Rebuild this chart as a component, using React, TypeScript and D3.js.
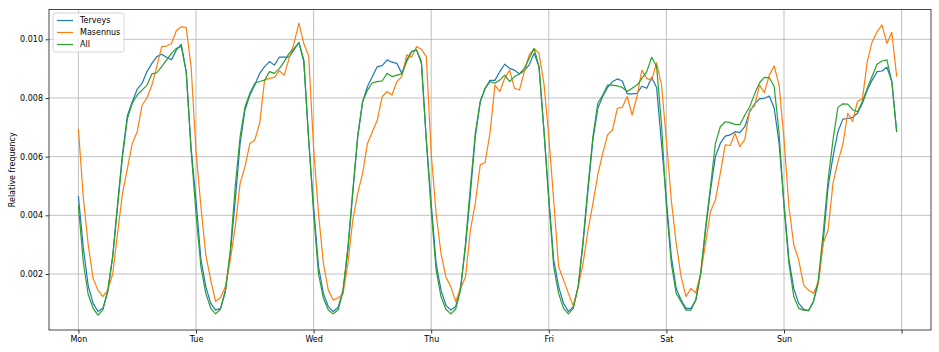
import React, { useEffect, useRef } from 'react';
import * as d3 from 'd3';

// hour of week 0..167, Monday 00:00 first
const days = ['Mon', 'Tue', 'Wed', 'Thu', 'Fri', 'Sat', 'Sun', ''];
const yTicks = [0.002, 0.004, 0.006, 0.008, 0.010];

const terveys = [
  // Mon
  0.00466, 0.0029, 0.0016, 0.001, 0.00072, 0.00083, 0.0014, 0.0026, 0.0044, 0.0061, 0.0074, 0.00787,
  0.0083, 0.0085, 0.0089, 0.00918, 0.00941, 0.00949, 0.00939, 0.0093, 0.00964, 0.00983, 0.0089, 0.0063,
  // Tue
  0.0045, 0.0025, 0.00157, 0.001, 0.00077, 0.00083, 0.00145, 0.0027, 0.0045, 0.00645, 0.0076, 0.0081,
  0.00844, 0.00884, 0.00907, 0.00924, 0.00912, 0.00939, 0.00939, 0.00939, 0.00964, 0.00989, 0.00924, 0.00657,
  // Wed
  0.0043, 0.00225, 0.00134, 0.00089, 0.00072, 0.00086, 0.00145, 0.0028, 0.00475, 0.00668, 0.00787, 0.00839,
  0.00873, 0.00907, 0.0091, 0.0093, 0.00922, 0.00918, 0.00884, 0.0093, 0.00958, 0.00964, 0.00924, 0.00657,
  // Thu
  0.00441, 0.00236, 0.00145, 0.00094, 0.00077, 0.00089, 0.00157, 0.00293, 0.00475, 0.00668, 0.00787, 0.00833,
  0.0086, 0.0086, 0.0089, 0.00915, 0.00901, 0.00895, 0.00882, 0.00893, 0.00913, 0.00952, 0.00907, 0.00691,
  // Fri
  0.0046, 0.00248, 0.00157, 0.001, 0.00072, 0.00089, 0.00157, 0.00305, 0.00486, 0.00657, 0.00765, 0.00805,
  0.00836, 0.00856, 0.00865, 0.00858, 0.00814, 0.00814, 0.00816, 0.0084, 0.00833, 0.0087, 0.00836, 0.00645,
  // Sat
  0.00452, 0.00259, 0.00151, 0.00111, 0.00083, 0.00083, 0.00111, 0.00202, 0.0035, 0.00486, 0.006, 0.00645,
  0.0067, 0.00674, 0.00685, 0.00682, 0.00702, 0.00753, 0.0078, 0.00797, 0.00799, 0.00807, 0.00765, 0.00645,
  // Sun
  0.0044, 0.0025, 0.0015, 0.001, 0.0008, 0.00075, 0.00105, 0.0017, 0.0031, 0.00498, 0.006, 0.00685,
  0.00728, 0.0073, 0.00734, 0.00748, 0.00782, 0.00827, 0.00861, 0.0089, 0.00892, 0.00905, 0.00856, 0.00685,
];

const masennus = [
  // Mon
  0.00695, 0.0046, 0.003, 0.00185, 0.00145, 0.00123, 0.00145, 0.002, 0.0034, 0.00475, 0.0056, 0.00645,
  0.00685, 0.00776, 0.008, 0.00844, 0.00907, 0.00975, 0.00977, 0.00986, 0.0103, 0.01043, 0.0104, 0.00907,
  // Tue
  0.0062, 0.0043, 0.00265, 0.0018, 0.00106, 0.0012, 0.00157, 0.00248, 0.0036, 0.00509, 0.00566, 0.00645,
  0.00657, 0.00714, 0.00861, 0.00867, 0.0087, 0.00893, 0.00878, 0.00935, 0.00986, 0.01055, 0.00986, 0.00943,
  // Wed
  0.0063, 0.00407, 0.00236, 0.00145, 0.00111, 0.00119, 0.00132, 0.00236, 0.00384, 0.00475, 0.00543, 0.00645,
  0.00685, 0.00725, 0.00805, 0.00822, 0.0081, 0.00856, 0.00873, 0.00947, 0.00939, 0.00975, 0.00966, 0.00941,
  // Thu
  0.00611, 0.00407, 0.0027, 0.0019, 0.00157, 0.00106, 0.00151, 0.0019, 0.0035, 0.00441, 0.00572, 0.0058,
  0.0068, 0.00844, 0.00822, 0.00867, 0.00895, 0.00833, 0.00827, 0.0089, 0.00947, 0.00969, 0.00952, 0.0085,
  // Fri
  0.0067, 0.0045, 0.00225, 0.0018, 0.00134, 0.00091, 0.00157, 0.00236, 0.0035, 0.0044, 0.00538, 0.00611,
  0.00674, 0.00691, 0.00765, 0.00768, 0.00805, 0.00742, 0.00805, 0.00895, 0.00867, 0.00861, 0.0092, 0.00844,
  // Sat
  0.00657, 0.00452, 0.00305, 0.00191, 0.00123, 0.00151, 0.00136, 0.00202, 0.00305, 0.00413, 0.00452, 0.00543,
  0.0064, 0.00638, 0.0068, 0.00634, 0.00659, 0.00759, 0.00773, 0.00844, 0.00818, 0.00878, 0.00909, 0.00844,
  // Sun
  0.0066, 0.0043, 0.00299, 0.00248, 0.00163, 0.00145, 0.00134, 0.00168, 0.00305, 0.0035, 0.00509, 0.00583,
  0.0064, 0.00748, 0.0072, 0.00788, 0.00797, 0.00924, 0.00992, 0.01026, 0.01049, 0.00986, 0.01024, 0.00873,
];

const all = [
  // Mon
  0.00433, 0.0024, 0.0013, 0.00083, 0.0006, 0.00078, 0.00145, 0.0026, 0.0043, 0.006, 0.0073, 0.00782,
  0.0081, 0.00827, 0.00844, 0.00882, 0.00886, 0.00907, 0.0093, 0.00952, 0.00969, 0.00975, 0.0089, 0.0062,
  // Tue
  0.00407, 0.00225, 0.00134, 0.00083, 0.00064, 0.0008, 0.0014, 0.0028, 0.00498, 0.00668, 0.0077, 0.00816,
  0.0085, 0.00856, 0.00861, 0.0089, 0.00884, 0.009, 0.00924, 0.00952, 0.00969, 0.00989, 0.0093, 0.00657,
  // Wed
  0.00407, 0.002, 0.00117, 0.00077, 0.00064, 0.00077, 0.0014, 0.00293, 0.00486, 0.00668, 0.00787, 0.00827,
  0.00852, 0.00856, 0.00858, 0.00884, 0.00873, 0.00878, 0.00882, 0.00924, 0.00958, 0.00964, 0.00918, 0.00657,
  // Thu
  0.00418, 0.00214, 0.00123, 0.0008, 0.00064, 0.0008, 0.00145, 0.00305, 0.00498, 0.0068, 0.00787, 0.00833,
  0.00856, 0.0085, 0.00861, 0.00878, 0.00856, 0.00873, 0.00882, 0.00901, 0.00935, 0.00969, 0.00907, 0.00691,
  // Fri
  0.0045, 0.00225, 0.00134, 0.00083, 0.00064, 0.00083, 0.00157, 0.00316, 0.00498, 0.00668, 0.00782, 0.0081,
  0.00844, 0.00844, 0.00841, 0.00836, 0.00822, 0.00833, 0.00844, 0.00867, 0.0089, 0.00939, 0.00907, 0.0071,
  // Sat
  0.0043, 0.00236, 0.00134, 0.00106, 0.00077, 0.00077, 0.00111, 0.00202, 0.00361, 0.00498, 0.00645, 0.00702,
  0.00719, 0.00716, 0.0071, 0.00709, 0.00742, 0.0077, 0.00814, 0.00852, 0.0087, 0.00869, 0.00839, 0.0068,
  // Sun
  0.0043, 0.00236, 0.00123, 0.00083, 0.00077, 0.00075, 0.00106, 0.0018, 0.0034, 0.0052, 0.00657, 0.00768,
  0.0078, 0.00779, 0.0076, 0.00753, 0.00788, 0.00833, 0.00875, 0.00915, 0.00926, 0.0093, 0.00856, 0.00683,
];

const series = [
  { name: 'Terveys', values: terveys, color: '#1f77b4' },
  { name: 'Masennus', values: masennus, color: '#ff7f0e' },
  { name: 'All', values: all, color: '#2ca02c' },
];

function WeekChart() {
  const svgRef = useRef(null);

  useEffect(() => {
    const width = 939;
    const height = 352;
    const margin = { top: 9.5, right: 8, bottom: 22, left: 49 };
    const innerWidth = width - margin.left - margin.right;
    const innerHeight = height - margin.top - margin.bottom;
    const font = '8px "DejaVu Sans"';

    const svg = d3.select(svgRef.current);
    svg.selectAll('*').remove();

    const xScale = d3.scaleLinear().domain([-6, 174]).range([0, innerWidth]);
    const yScale = d3.scaleLinear().domain([0.000091, 0.011016]).range([innerHeight, 0]);

    const g = svg.append('g')
      .attr('transform', `translate(${margin.left},${margin.top})`);

    const xTicks = days.map((d, i) => i * 24);

    // grid
    g.append('g').selectAll('line').data(xTicks)
      .enter().append('line')
        .attr('x1', d => xScale(d)).attr('x2', d => xScale(d))
        .attr('y1', 0).attr('y2', innerHeight)
        .attr('stroke', '#b0b0b0').attr('stroke-width', 0.8);
    g.append('g').selectAll('line').data(yTicks)
      .enter().append('line')
        .attr('x1', 0).attr('x2', innerWidth)
        .attr('y1', d => yScale(d)).attr('y2', d => yScale(d))
        .attr('stroke', '#b0b0b0').attr('stroke-width', 0.8);

    const xAxis = d3.axisBottom(xScale)
      .tickValues(xTicks)
      .tickSize(3.5)
      .tickPadding(2.5)
      .tickFormat((d, i) => days[i]);

    const xAxisG = g.append('g')
      .attr('transform', `translate(0,${innerHeight})`)
      .call(xAxis);
    xAxisG.select('.domain').remove();
    xAxisG.selectAll('text').style('font', font).attr('fill', '#000');
    xAxisG.selectAll('line').attr('stroke', '#000').attr('stroke-width', 0.8);

    const yAxis = d3.axisLeft(yScale)
      .tickValues(yTicks)
      .tickSize(3.5)
      .tickPadding(2.5)
      .tickFormat(d3.format('.3f'));

    const yAxisG = g.append('g').call(yAxis);
    yAxisG.select('.domain').remove();
    yAxisG.selectAll('text').style('font', font).attr('fill', '#000');
    yAxisG.selectAll('line').attr('stroke', '#000').attr('stroke-width', 0.8);

    svg.append('text')
      .attr('transform', `translate(12,${margin.top + innerHeight / 2}) rotate(-90)`)
      .attr('text-anchor', 'middle')
      .attr('dominant-baseline', 'central')
      .style('font', font)
      .attr('fill', '#000')
      .text('Relative frequency');

    const line = d3.line()
      .x((d, i) => xScale(i))
      .y(d => yScale(d));

    g.selectAll('path.series').data(series)
      .enter().append('path')
        .attr('class', 'series')
        .attr('d', d => line(d.values))
        .attr('fill', 'none')
        .attr('stroke', d => d.color)
        .attr('stroke-width', 1.2)
        .attr('stroke-linejoin', 'round');

    // frame
    g.append('rect')
      .attr('width', innerWidth).attr('height', innerHeight)
      .attr('fill', 'none').attr('stroke', '#333').attr('stroke-width', 0.9);

    // legend
    const legend = g.append('g').attr('transform', 'translate(4,3.5)');
    legend.append('rect')
      .attr('width', 71).attr('height', 39).attr('rx', 2.5)
      .attr('fill', '#fff').attr('fill-opacity', 0.8)
      .attr('stroke', '#cccccc').attr('stroke-width', 0.8);
    const items = legend.selectAll('g.item').data(series)
      .enter().append('g')
        .attr('class', 'item')
        .attr('transform', (d, i) => `translate(0,${7.5 + i * 12})`);
    items.append('line')
      .attr('x1', 4).attr('x2', 20)
      .attr('stroke', d => d.color).attr('stroke-width', 1.2);
    items.append('text')
      .attr('x', 27)
      .attr('dominant-baseline', 'central')
      .style('font', font)
      .attr('fill', '#000')
      .text(d => d.name);
  }, []);

  return (
    <div style={{ position: 'absolute', left: 0, top: 0 }}>
      <svg ref={svgRef} width={939} height={352} style={{ display: 'block', background: '#fff' }} />
    </div>
  );
}

export default function App() {
  return <WeekChart />;
}
